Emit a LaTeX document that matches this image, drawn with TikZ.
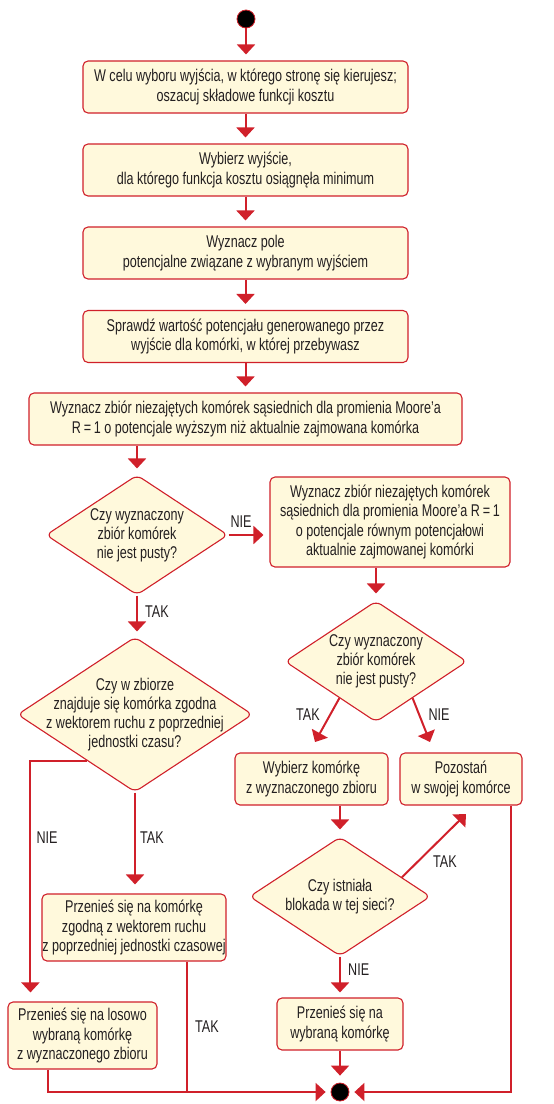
\documentclass[tikz,border=0pt]{standalone}
\usepackage{fontspec}
\setmainfont{Liberation Sans}[FakeStretch=0.74]
\usetikzlibrary{shapes.geometric,arrows.meta,calc}
\definecolor{fcred}{HTML}{D0202A}
\definecolor{fcfill}{HTML}{FFF9DC}
\definecolor{fctext}{HTML}{231F20}
\tikzset{
  box/.style={rectangle, rounded corners=5pt, draw=fcred, line width=1.1pt, fill=fcfill,
    inner sep=0pt, align=center, text=fctext, font=\fontsize{17}{19.5}\selectfont},
  dec/.style={diamond, rounded corners=6pt, draw=fcred, line width=1.1pt, fill=fcfill,
    inner sep=0pt},
  dectext/.style={align=center, text=fctext, font=\fontsize{17}{19}\selectfont},
  lbl/.style={text=fctext, font=\fontsize{17}{19}\selectfont, inner sep=0pt},
  conn/.style={draw=fcred, line width=2pt},
  arr/.style={conn, -{Triangle[width=18pt,length=10pt]}, shorten >=6pt},
  dot/.style={circle, fill=black, draw=fcred, line width=0.8pt, minimum size=18pt, inner sep=0pt}
}
\begin{document}
\begin{tikzpicture}[x=1pt,y=-1pt]
\useasboundingbox (0,0) rectangle (554,1104);
% nodes
\node[dot] (S) at (246,19) {};
\node[box, minimum width=325pt, minimum height=52pt] (B1) at (245.5,87)
  {W celu wyboru wyjścia, w którego stronę się kierujesz;\\oszacuj składowe funkcji kosztu};
\node[box, minimum width=325pt, minimum height=52pt] (B2) at (245.5,170)
  {Wybierz wyjście,\\dla którego funkcja kosztu osiągnęła minimum};
\node[box, minimum width=325pt, minimum height=52pt] (B3) at (245.5,253)
  {Wyznacz pole\\potencjalne związane z wybranym wyjściem};
\node[box, minimum width=325pt, minimum height=52pt] (B4) at (245.5,336.5)
  {Sprawdź wartość potencjału generowanego przez\\wyjście dla komórki, w której przebywasz};
\node[box, minimum width=433pt, minimum height=52pt] (B5) at (245.5,419)
  {Wyznacz zbiór niezajętych komórek sąsiednich dla promienia Moore’a\\R\,=\,1 o potencjale wyższym niż aktualnie zajmowana komórka};
\node[dec, minimum width=182pt, minimum height=120pt] (D1) at (137,535) {};
\node[dectext] at (D1.center) {Czy wyznaczony\\zbiór komórek\\nie jest pusty?};
\node[box, minimum width=240pt, minimum height=90pt] (B6) at (390,522)
  {Wyznacz zbiór niezajętych komórek\\sąsiednich dla promienia Moore’a R\,=\,1\\o potencjale równym potencjałowi\\aktualnie zajmowanej komórki};
\node[dec, minimum width=182pt, minimum height=121pt] (D2) at (376,661.5) {};
\node[dectext] at (D2.center) {Czy wyznaczony\\zbiór komórek\\nie jest pusty?};
\node[dec, minimum width=235pt, minimum height=155pt] (D3) at (135,714.5) {};
\node[dectext] at (D3.center) {Czy w zbiorze\\znajduje się komórka zgodna\\z wektorem ruchu z poprzedniej\\jednostki czasu?};
\node[box, minimum width=153pt, minimum height=52pt] (B7) at (311.5,779)
  {Wybierz komórkę\\z wyznaczonego zbioru};
\node[box, minimum width=122pt, minimum height=52pt] (B8) at (461,779)
  {Pozostań\\w swojej komórce};
\node[dec, minimum width=181pt, minimum height=119pt] (D4) at (340,896.5) {};
\node[dectext] at (D4.center) {Czy istniała\\blokada w tej sieci?};
\node[box, minimum width=184pt, minimum height=67pt] (B9) at (134,927.5)
  {Przenieś się na komórkę\\zgodną z wektorem ruchu\\z poprzedniej jednostki czasowej};
\node[box, minimum width=149pt, minimum height=67pt] (B10) at (82.5,1035.5)
  {Przenieś się na losowo\\wybraną komórkę\\z wyznaczonego zbioru};
\node[box, minimum width=126pt, minimum height=52pt] (B11) at (340,1024)
  {Przenieś się na\\wybraną komórkę};
\node[dot] (E) at (340,1092) {};
\coordinate (t1) at (315,742);
\coordinate (t2) at (430,742);
\coordinate (t3) at (466,814);
\coordinate (b9s) at ($(B9.south east)+(-40,0)$);
\coordinate (b10s) at ($(B10.south west)+(41,0)$);
\coordinate (b8s) at ($(B8.south east)+(-12,0)$);
\coordinate (b10n) at ($(B10.north west)+(23,0)$);
% connectors
\draw[arr] (S) -- (S |- B1.north);
\draw[arr] (B1) -- (B1 |- B2.north);
\draw[arr] (B2) -- (B2 |- B3.north);
\draw[arr] (B3) -- (B3 |- B4.north);
\draw[arr] (B4.south) -- (B4 |- B5.north);
\draw[arr] (B5.south -| D1.north) -- (D1.north);
\draw[arr] (D1.east) -- (D1.east -| B6.west);
\draw[arr, shorten >=5pt] (D1.south) -- (D1.south |- D3.north);
\draw[arr, shorten >=7pt] (B6.south -| D2.north) -- (D2.north);
\draw[arr, shorten >=0pt] ($(D2.south)!0.4!(D2.west)$) -- (t1);
\draw[arr, shorten >=0pt] ($(D2.south)!0.4!(D2.east)$) -- (t2);
\draw[arr, shorten >=7pt] (B7.south -| D4.north) -- (D4.north);
\draw[arr, shorten >=0pt] ($(D4.north)!0.68!(D4.east)$) -- (t3);
\draw[arr, shorten >=5pt] (D4.south) -- (B11.north);
\draw[arr, shorten >=9pt] (D3.south) -- (D3.south |- B9.north);
\draw[arr, shorten >=9pt] ($(D3.south)!0.41!(D3.west)$) -| (b10n);
\draw[arr, shorten >=7pt] (B11.south) -- (E.north);
\draw[arr, shorten >=5pt] (b10s) |- (E.west);
\draw[conn] (b9s) -- (b9s |- E.west);
\draw[arr, shorten >=5pt] (b8s) |- (E.east);
% labels
\node[lbl] (l1) at (241,522) {NIE};
\node[lbl, anchor=west] (l2) at (145,612) {TAK};
\node[lbl] (l3) at (308,715) {TAK};
\node[lbl] (l4) at (439,715) {NIE};
\node[lbl] (l5) at (47,838) {NIE};
\node[lbl, anchor=west] (l6) at (140,838) {TAK};
\node[lbl] (l7) at (445,862) {TAK};
\node[lbl, anchor=west] (l8) at (348,970) {NIE};
\node[lbl, anchor=west] (l9) at (195,1027) {TAK};
\end{tikzpicture}
\end{document}
